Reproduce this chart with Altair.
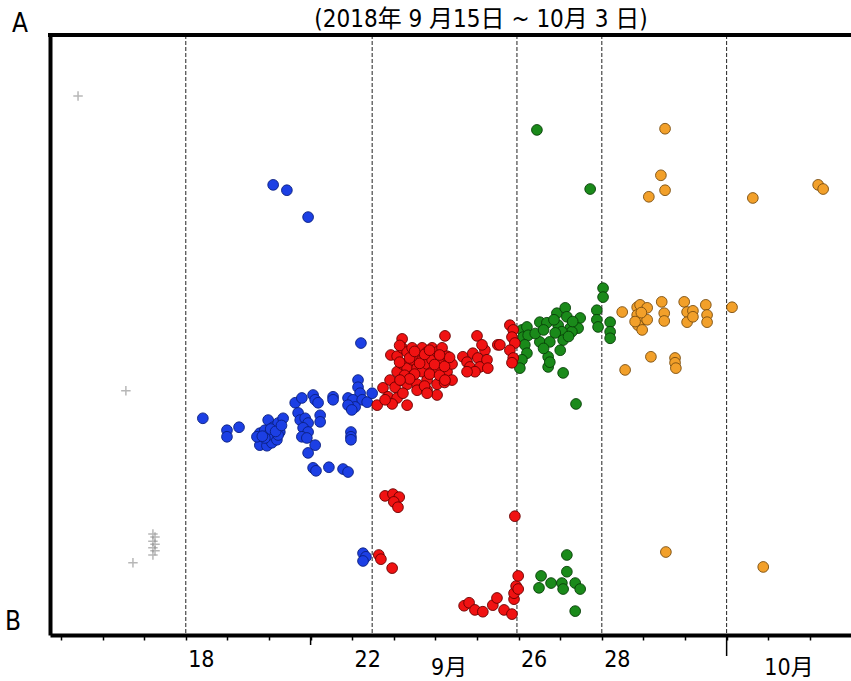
import altair as alt
import pandas as pd

FONT = "Liberation Sans Narrow, DejaVu Sans Condensed, Noto Sans CJK JP, sans-serif"

# ---- data (day = day of September; 31 = Oct 1) ----
gray_day = [15.41, 16.56, 16.73, 17.21, 17.26, 17.21, 17.26, 17.21, 17.26, 17.21]
gray_val = [89.8, 40.4, 11.6, 16.4, 15.9, 15.2, 14.7, 14.1, 13.6, 12.9]

blue_day = [20.10, 20.43, 20.94, 22.21, 18.41, 18.99, 18.99, 19.28, 19.78, 19.90,
            19.98, 20.10, 20.22, 20.34, 20.26, 20.14, 20.02, 19.86, 19.78, 19.95,
            20.07, 20.19, 19.71, 19.98, 19.90, 20.22, 20.63, 20.79, 21.06, 21.11,
            21.18, 20.70, 20.75, 20.87, 20.94, 21.23, 21.23, 20.82, 20.94, 20.79,
            20.91, 21.11, 20.94, 21.54, 21.54, 22.14, 22.14, 22.19, 21.90, 22.02,
            22.24, 22.36, 22.48, 22.07, 21.90, 21.99, 21.97, 21.97, 21.97, 21.06,
            21.13, 21.44, 21.78, 21.90, 22.26, 22.33, 22.26,
            20.04, 20.16, 19.84, 20.30]
blue_val = [74.9, 74.0, 69.5, 48.4, 35.8, 33.8, 32.7, 34.3, 33.3, 33.8,
            35.5, 34.3, 35.0, 35.8, 33.5, 32.7, 32.2, 31.7, 31.3, 31.2,
            31.7, 32.2, 32.7, 33.0, 32.5, 33.0, 38.4, 39.2, 39.7, 38.9,
            38.4, 36.7, 35.5, 35.8, 35.0, 36.3, 35.2, 34.2, 33.5, 32.7,
            32.5, 31.3, 30.0, 39.4, 38.9, 42.2, 41.0, 40.0, 39.2, 38.9,
            38.9, 38.5, 40.0, 37.7, 38.0, 37.2, 33.5, 32.7, 32.2, 27.5,
            27.0, 27.6, 27.3, 26.8, 13.2, 12.6, 11.9,
            34.0, 33.6, 32.8, 34.6]

red_day = [23.20, 24.23, 25.00, 25.50, 22.93,
           23.08, 23.08, 23.20, 23.20, 23.20, 23.32, 23.32, 23.32, 23.44, 23.44,
           23.44, 23.56, 23.56, 23.56, 23.68, 23.68, 23.68, 23.80, 23.80, 23.80,
           23.92, 23.92, 23.92, 24.04, 24.04, 24.04, 24.16, 24.16, 24.16, 24.28,
           24.28, 24.40, 24.40, 23.56, 23.80, 24.04,
           23.14, 23.26, 23.38, 23.50, 23.62, 23.74, 23.86, 23.98, 24.10, 24.22,
           24.34, 23.14, 23.50, 23.86, 24.22, 23.38, 23.74, 24.10,
           22.74, 22.91, 23.03, 23.15, 22.86, 23.08, 23.22, 22.96, 23.32, 22.60, 22.79,
           23.80, 24.23,
           24.66, 24.76, 24.83, 24.90, 25.02, 25.07, 25.19, 25.24, 25.26, 24.95, 24.76, 25.12,
           25.79, 25.87, 25.84, 25.91, 25.79, 25.87, 25.84, 25.55,
           22.79, 22.98, 23.13, 23.00, 23.10, 22.64, 22.69, 22.96, 25.91,
           24.69, 24.81, 24.95, 25.14, 25.38, 25.48, 25.65, 25.84, 25.89, 25.89,
           25.94, 25.99, 25.99]
red_val = [49.1, 49.6, 49.6, 48.1, 46.4,
           46.2, 43.6, 47.6, 44.9, 42.2, 46.9, 44.2, 41.5, 47.6, 45.6,
           42.9, 46.2, 44.2, 41.5, 47.6, 45.6, 43.6, 46.9, 44.9, 42.2,
           47.6, 45.6, 43.6, 46.9, 44.2, 41.5, 47.6, 45.6, 42.9, 46.2,
           43.6, 44.9, 42.2, 40.5, 40.5, 39.7,
           45.2, 43.0, 45.9, 43.2, 45.0, 46.5, 43.2, 44.8, 43.0, 44.5,
           46.0, 48.0, 47.0, 47.2, 41.8, 42.4, 41.2, 46.4,
           40.9, 42.2, 41.0, 42.2, 39.4, 39.2, 40.0, 38.2, 38.0, 38.0, 38.9,
           40.0, 42.2,
           46.1, 45.2, 44.4, 46.7, 45.9, 44.4, 47.2, 45.6, 44.2, 43.6, 43.6, 48.1,
           51.4, 50.6, 49.4, 48.4, 47.2, 45.9, 45.1, 48.1,
           22.8, 23.1, 22.6, 21.8, 20.9, 12.9, 12.2, 10.7, 19.4,
           4.4, 4.9, 3.7, 3.4, 4.5, 5.7, 3.7, 3.0, 5.5, 6.5,
           7.7, 9.4, 7.2]

green_day = [26.08, 26.20, 26.11, 26.23, 26.15, 26.20, 26.08, 26.03,
             26.51, 26.68, 26.92, 27.12, 27.16, 26.95, 27.24, 27.48, 27.43, 27.28,
             27.04, 26.88, 26.51, 26.75, 27.07, 27.00, 26.71, 26.71, 26.75, 27.07,
             27.38, 26.40, 26.60, 26.85, 27.30, 27.20, 26.60,
             27.88, 27.88, 27.91, 28.03, 28.03, 28.20, 28.20, 28.20,
             26.44, 27.72,
             27.16, 27.16, 26.54, 26.78, 26.49, 27.04, 27.07, 27.36, 27.48, 27.36]
green_val = [50.6, 51.1, 49.4, 49.7, 48.1, 46.7, 45.6, 44.2,
             51.9, 51.8, 53.4, 54.3, 52.8, 51.4, 50.9, 52.6, 50.9, 50.3,
             50.3, 50.1, 48.6, 48.6, 48.9, 47.2, 46.1, 44.4, 45.2, 43.4,
             38.2, 50.0, 50.6, 52.3, 52.0, 49.5, 47.5,
             53.9, 52.3, 51.1, 57.6, 56.1, 51.9, 50.3, 49.2,
             84.1, 74.2,
             12.9, 10.1, 9.4, 8.2, 7.4, 8.2, 7.2, 8.2, 7.2, 3.5]

orange_day = [28.49, 28.85, 28.92, 29.09, 28.85, 28.97, 29.09, 28.87, 28.97, 29.44,
              29.50, 29.50, 29.98, 30.05, 30.19, 30.05, 30.19, 30.50, 30.53, 30.53,
              31.13, 28.56, 29.18, 29.76, 29.76, 29.78, 28.80, 28.95,
              29.52, 29.42, 29.52, 29.13, 31.63, 33.20, 33.32,
              29.54, 31.88]
orange_val = [53.6, 54.4, 54.8, 54.3, 53.1, 52.3, 52.3, 51.4, 50.6, 55.3,
              53.4, 52.1, 55.3, 53.6, 53.8, 51.9, 52.8, 54.8, 53.1, 51.9,
              54.4, 43.9, 46.1, 45.9, 45.1, 44.2, 52.0, 53.5,
              84.3, 76.5, 74.0, 72.9, 72.7, 74.9, 74.2,
              13.4, 10.9]

dash_days = [18.0, 22.48, 25.96, 28.0, 31.0]
long_tick_days = [31.0]
mid_tick_days = [21.0]
label_days = [18, 22, 26, 28]
month_labels = ["9月", "10月"]
month_label_days = [24.33, 32.5]
title_text = "(2018年 9 月15日 ~ 10月 3 日)"

groups = ["gray", "blue", "red", "green", "orange"]
fills = ["#a8a8a8", "#1c3fe4", "#f01212", "#1a8a1a", "#f2a02a"]
strokes = ["#a8a8a8", "#0a1f80", "#6a0000", "#084008", "#7a4e10"]


def to_dt(days):
    base = pd.Timestamp("2018-09-01")
    return [(base + pd.to_timedelta(d - 1, unit="D")).strftime("%Y-%m-%dT%H:%M:%S") for d in days]


rows = []
for g, ds, vs in [("blue", blue_day, blue_val), ("red", red_day, red_val),
                  ("green", green_day, green_val), ("orange", orange_day, orange_val)]:
    for t, v in zip(to_dt(ds), vs):
        rows.append({"t": t, "v": v, "g": g})
pts = pd.DataFrame(rows)
gray_df = pd.DataFrame({"t": to_dt(gray_day), "v": gray_val})
dash_df = pd.DataFrame({"t": to_dt(dash_days)})
long_df = pd.DataFrame({"t": to_dt(long_tick_days)})
mid_df = pd.DataFrame({"t": to_dt(mid_tick_days)})
month_df = pd.DataFrame({"t": to_dt(month_label_days), "lab": month_labels})
one = pd.DataFrame({"k": [0]})

W, H = 801, 600
xscale = alt.Scale(domain=[alt.DateTime(year=2018, month=9, date=14, hours=17, minutes=40),
                           alt.DateTime(year=2018, month=10, date=3, hours=23, minutes=45)])
yscale = alt.Scale(domain=[-0.5, 100])

tick_vals = [alt.DateTime(year=2018, month=9, date=d) for d in range(15, 31)] + \
            [alt.DateTime(year=2018, month=10, date=d) for d in range(1, 4)]
lbl_expr = "indexof([" + ",".join(str(d) for d in label_days) + \
           "], date(datum.value)) >= 0 && month(datum.value) == 8 ? '' + date(datum.value) : ''"

xenc = alt.X("t:T", scale=xscale, title=None,
             axis=alt.Axis(values=tick_vals, labelExpr=lbl_expr, grid=False,
                           tickSize=5, tickWidth=1.5, tickColor="black",
                           domainColor="black", domainWidth=4,
                           labelFont=FONT, labelFontSize=23, labelColor="black",
                           labelOffset=15, labelPadding=8, labelOverlap=False,
                           labelFlush=False, labelAlign="center", labelBaseline="top"))
yenc = alt.Y("v:Q", scale=yscale, title=None,
             axis=alt.Axis(labels=False, ticks=False, grid=False,
                           domainColor="black", domainWidth=4))

dashes = alt.Chart(dash_df).mark_rule(color="#222", strokeWidth=1, strokeDash=[4, 2]).encode(
    x=alt.X("t:T", scale=xscale))

gray = alt.Chart(gray_df).mark_point(
    shape="M-1,0L1,0M0,-1L0,1", size=90, filled=False, stroke="#9a9a9a", strokeWidth=1.5
).encode(x=xenc, y=yenc)

dots = alt.Chart(pts).mark_point(filled=True, shape="circle", size=115, opacity=1,
                                 strokeWidth=0.9).encode(
    x=alt.X("t:T", scale=xscale),
    y=alt.Y("v:Q", scale=yscale),
    color=alt.Color("g:N", scale=alt.Scale(domain=groups, range=fills), legend=None),
    stroke=alt.Stroke("g:N", scale=alt.Scale(domain=groups, range=strokes), legend=None),
    order=alt.Order("g:N", sort="ascending"),
)

top_line = alt.Chart(one).mark_rule(color="black", strokeWidth=4).encode(
    x=alt.value(-2), x2=alt.value(W + 5), y=alt.value(0))

long_tick = alt.Chart(long_df).mark_rule(color="black", strokeWidth=1.5).encode(
    x=alt.X("t:T", scale=xscale), y=alt.value(H), y2=alt.value(H + 21))
mid_tick = alt.Chart(mid_df).mark_rule(color="black", strokeWidth=1.5).encode(
    x=alt.X("t:T", scale=xscale), y=alt.value(H), y2=alt.value(H + 10))

months = alt.Chart(month_df).mark_text(font=FONT, fontSize=23, color="black",
                                        baseline="alphabetic", align="center").encode(
    x=alt.X("t:T", scale=xscale), y=alt.value(H + 40), text="lab:N")

title = alt.Chart(one).mark_text(font=FONT, fontSize=24, color="black",
                                 baseline="alphabetic", align="center").encode(
    x=alt.value(431), y=alt.value(-8), text=alt.value(title_text))
lab_a = alt.Chart(one).mark_text(font=FONT, fontSize=26, color="black",
                                 baseline="alphabetic", align="center").encode(
    x=alt.value(-30), y=alt.value(-3), text=alt.value("A"))
lab_b = alt.Chart(one).mark_text(font=FONT, fontSize=26, color="black",
                                 baseline="alphabetic", align="center").encode(
    x=alt.value(-37), y=alt.value(H - 5), text=alt.value("B"))

chart = alt.layer(dashes, gray, dots, top_line, long_tick, mid_tick, months, title, lab_a, lab_b).properties(
    width=W, height=H,
    autosize=alt.AutoSizeParams(type="none"),
    padding={"left": 50, "top": 35, "right": 0, "bottom": 46},
    background="white",
).configure_view(stroke=None)

chart.save("out.html", embed_options={"renderer": "svg", "actions": False})
